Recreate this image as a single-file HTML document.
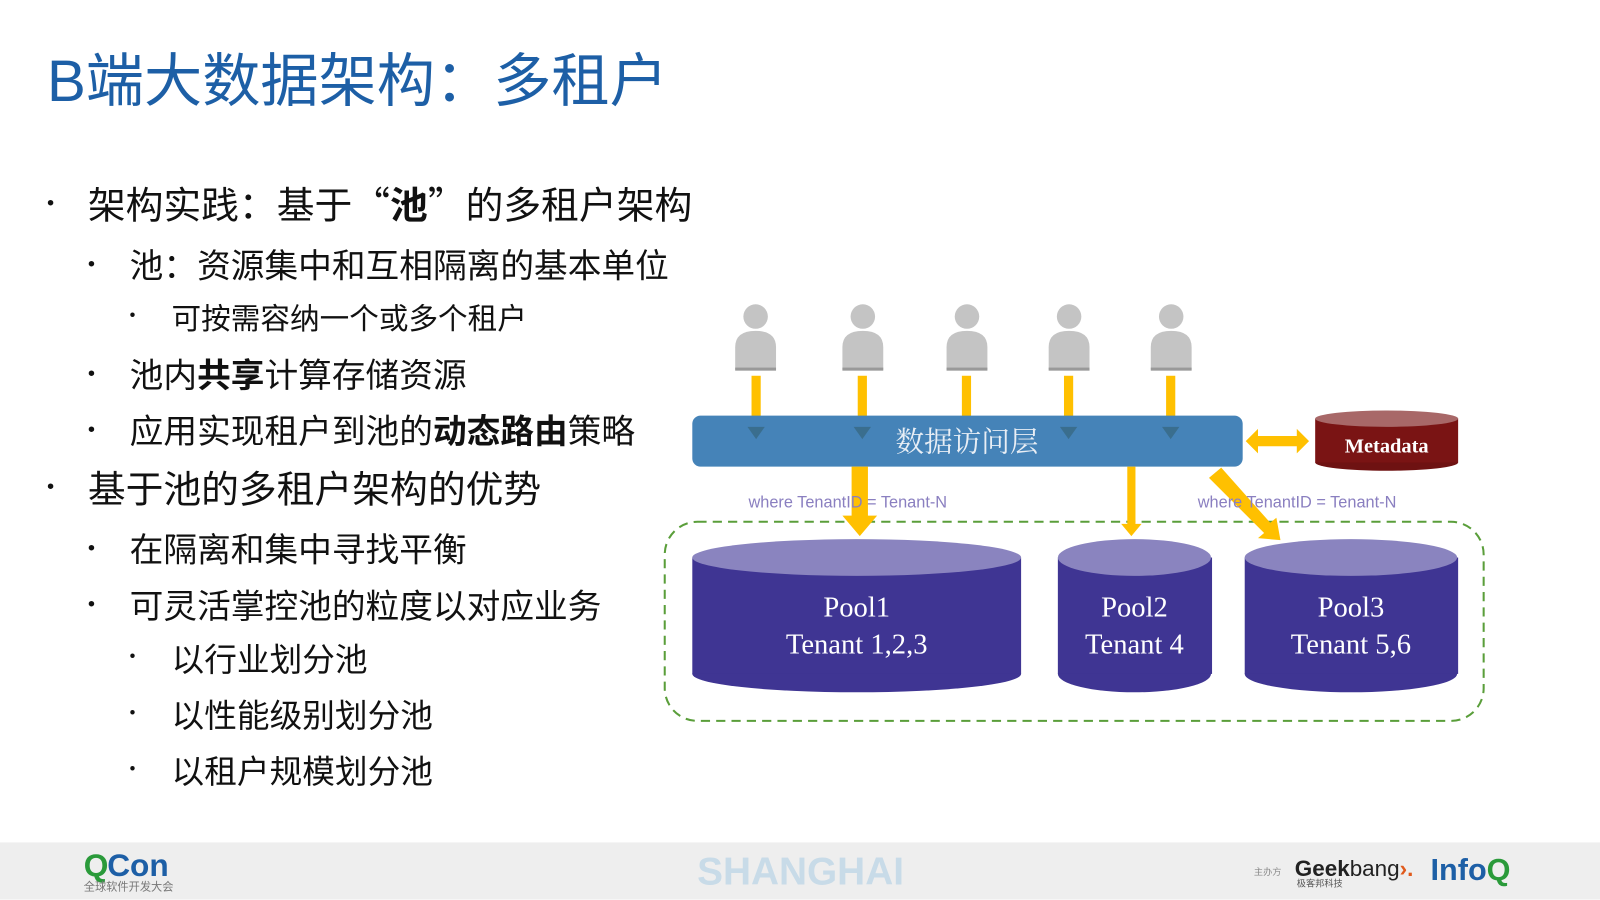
<!DOCTYPE html>
<html><head><meta charset="utf-8"><style>
html,body{margin:0;padding:0;background:#fff;overflow:hidden}
#w{width:1567px;height:881px;position:relative;transform:scale(1.0211);transform-origin:0 0;font-family:"Liberation Sans","Noto Sans CJK SC",sans-serif}
.t{position:absolute;white-space:nowrap;color:#111}
.b{position:absolute;font-size:20px;color:#111}
.c{font-family:"Noto Sans CJK SC",sans-serif}
</style></head><body><div id="w">
<div class="t" style="left:46px;top:34px;font-size:57px;color:#1d5fa6">B端大数据架构<span class="c">：</span>多租户</div>

<div class="b" style="left:46px;top:188px">•</div><div class="t" style="left:86px;top:171px;font-size:37px">架构实践<span class="c">：</span>基于<span class="c">“</span><b>池</b><span class="c">”</span>的多租户架构</div>
<div class="b" style="left:86px;top:248px">•</div><div class="t" style="left:127px;top:234px;font-size:33px">池<span class="c">：</span>资源集中和互相隔离的基本单位</div>
<div class="b" style="left:127px;top:301px;font-size:16px">•</div><div class="t" style="left:168px;top:289px;font-size:29px">可按需容纳一个或多个租户</div>
<div class="b" style="left:86px;top:355px">•</div><div class="t" style="left:127px;top:341px;font-size:33px">池内<b>共享</b>计算存储资源</div>
<div class="b" style="left:86px;top:410px">•</div><div class="t" style="left:127px;top:396px;font-size:33px">应用实现租户到池的<b>动态路由</b>策略</div>
<div class="b" style="left:46px;top:466px">•</div><div class="t" style="left:86px;top:449px;font-size:37px">基于池的多租户架构的优势</div>
<div class="b" style="left:86px;top:526px">•</div><div class="t" style="left:127px;top:512px;font-size:33px">在隔离和集中寻找平衡</div>
<div class="b" style="left:86px;top:581px">•</div><div class="t" style="left:127px;top:567px;font-size:33px">可灵活掌控池的粒度以对应业务</div>
<div class="b" style="left:127px;top:635px;font-size:16px">•</div><div class="t" style="left:168px;top:621px;font-size:32px">以行业划分池</div>
<div class="b" style="left:127px;top:690px;font-size:16px">•</div><div class="t" style="left:168px;top:676px;font-size:32px">以性能级别划分池</div>
<div class="b" style="left:127px;top:745px;font-size:16px">•</div><div class="t" style="left:168px;top:731px;font-size:32px">以租户规模划分池</div>

<svg width="1567" height="881" style="position:absolute;left:0;top:0">
<defs>
<g id="u"><circle cx="0" cy="-42" r="12" fill="#c4c4c4"/><path d="M-20 -12 Q-20 -28 0 -28 Q20 -28 20 -12 L20 10 L-20 10Z" fill="#c4c4c4"/><rect x="-20" y="8" width="40" height="3" fill="#999"/></g>
</defs>
<rect x="651" y="511" width="802" height="195" rx="32" fill="none" stroke="#5a9e3a" stroke-width="2" stroke-dasharray="9,6"/>
<g transform="translate(740,352)"><use href="#u"/></g>
<g transform="translate(845,352)"><use href="#u"/></g>
<g transform="translate(947,352)"><use href="#u"/></g>
<g transform="translate(1047,352)"><use href="#u"/></g>
<g transform="translate(1147,352)"><use href="#u"/></g>
<g fill="#ffc000">
<rect x="736" y="368" width="9" height="50"/><rect x="840" y="368" width="9" height="50"/><rect x="942" y="368" width="9" height="50"/><rect x="1042" y="368" width="9" height="50"/><rect x="1142" y="368" width="9" height="50"/>
</g>
<rect x="678" y="407" width="539" height="50" rx="8" fill="#4583b8"/>
<g fill="#3a6e8e">
<path d="M732 418h17l-8.5 12z"/><path d="M836 418h17l-8.5 12z"/><path d="M1038 418h17l-8.5 12z"/><path d="M1138 418h17l-8.5 12z"/>
</g>
<text x="947" y="442" font-size="28" fill="#e8eef5" text-anchor="middle" font-family="Liberation Serif,Noto Serif CJK SC,serif">数据访问层</text>
<g fill="#ffc000">
<path d="M1220 432l12-12v7h38v-7l12 12-12 12v-7h-38v7z"/>
<path d="M834 457h16v48h9l-17 20-17-20h9z"/>
<path d="M1104 457h8v56h6l-10 12-10-12h6z"/>
<path d="M1184 468l12-10 48 54 6-5 4 22-22-2 6-5z"/>
</g>
<ellipse cx="1358" cy="453" rx="70" ry="8" fill="#6e1212"/>
<rect x="1288" y="410" width="140" height="43" fill="#7a1414"/>
<ellipse cx="1358" cy="410" rx="70" ry="8" fill="#a86868"/>
<text x="1358" y="443" font-size="20" font-weight="bold" fill="#fff" text-anchor="middle" font-family="Liberation Serif,serif">Metadata</text>
<text x="733" y="497" font-size="16" fill="#8a7fc0">where TenantID = Tenant-N</text>
<text x="1173" y="497" font-size="16" fill="#8a7fc0">where TenantID = Tenant-N</text>
<g font-family="Liberation Serif,serif" font-size="28" fill="#fff" text-anchor="middle">
<ellipse cx="839" cy="660" rx="161" ry="18" fill="#3f3593"/><rect x="678" y="546" width="322" height="114" fill="#3f3593"/><ellipse cx="839" cy="546" rx="161" ry="18" fill="#8a84bf"/>
<text x="839" y="604">Pool1</text><text x="839" y="640">Tenant 1,2,3</text>
<ellipse cx="1111" cy="660" rx="75" ry="18" fill="#3f3593"/><rect x="1036" y="546" width="151" height="114" fill="#3f3593"/><ellipse cx="1111" cy="546" rx="75" ry="18" fill="#8a84bf"/>
<text x="1111" y="604">Pool2</text><text x="1111" y="640">Tenant 4</text>
<ellipse cx="1323" cy="660" rx="104" ry="18" fill="#3f3593"/><rect x="1219" y="546" width="209" height="114" fill="#3f3593"/><ellipse cx="1323" cy="546" rx="104" ry="18" fill="#8a84bf"/>
<text x="1323" y="604">Pool3</text><text x="1323" y="640">Tenant 5,6</text>
</g>
<rect x="0" y="825" width="1567" height="56" fill="#eeeeee"/>
<text x="82" y="858" font-size="31" font-weight="bold" fill="#2a9a3a">Q</text><text x="105" y="858" font-size="31" font-weight="bold" fill="#1d5fa6">Con</text>
<text x="82" y="872" font-size="11" fill="#777">全球软件开发大会</text>
<text x="784" y="866" font-size="38" font-weight="bold" fill="#c8dbe8" text-anchor="middle">SHANGHAI</text>
<text x="1228" y="857" font-size="9" fill="#888">主办方</text>
<text x="1268" y="858" font-size="22" font-weight="bold" fill="#222">Geek<tspan fill="#222" font-weight="normal">bang</tspan><tspan fill="#e05a1c">›.</tspan></text>
<text x="1270" y="868" font-size="9" fill="#555">极客邦科技</text>
<text x="1401" y="862" font-size="30" font-weight="bold" fill="#1d5fa6">Info<tspan fill="#2a9a3a">Q</tspan></text>
</svg>
</div></body></html>
